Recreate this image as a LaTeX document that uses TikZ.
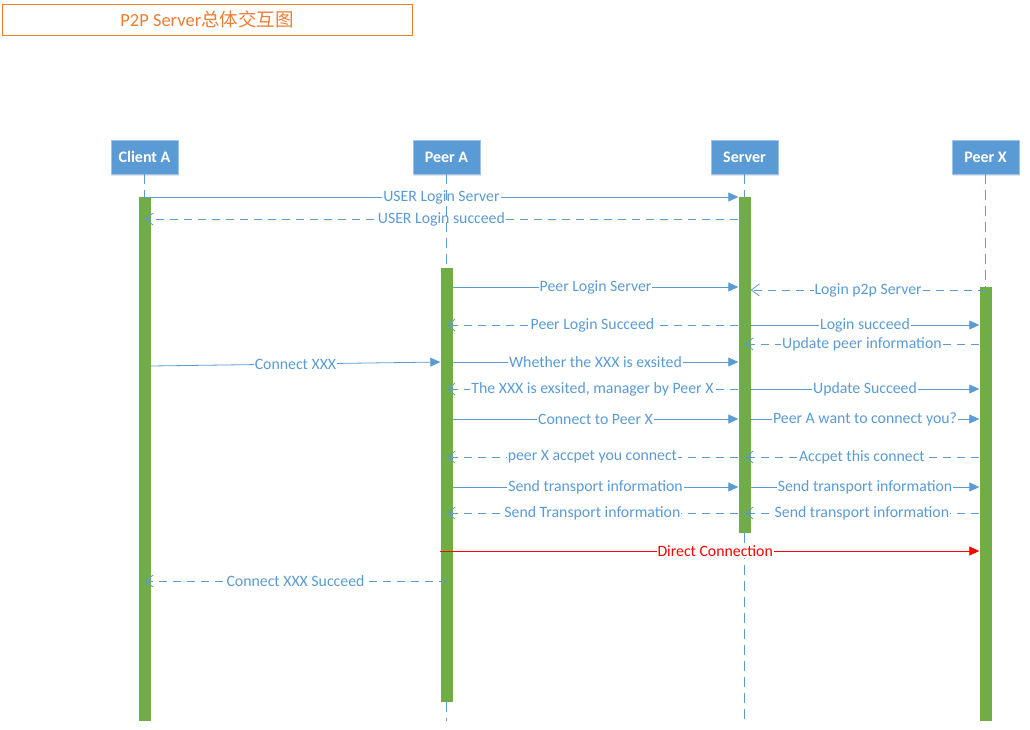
\documentclass[tikz,border=0pt]{standalone}
\usepackage{fontspec}
\setmainfont{Carlito}
\newfontfamily\cjk{Noto Sans CJK SC}
\usepackage{xcolor}
\usepackage{tikz}
\usetikzlibrary{
  arrows.meta,
  positioning,
  shadows
}
\definecolor{headblue}{HTML}{5B9BD5}
\definecolor{msgblue}{HTML}{5B9BD5}
\definecolor{bargreen}{HTML}{70AD47}
\definecolor{titleorange}{HTML}{ED7D31}

\begin{document}
\begin{tikzpicture}[
  x=1pt, y=-1pt,
  head/.style={draw=headblue!60!white, fill=headblue, text=white,
               minimum width=67pt, minimum height=34pt, inner sep=0pt,
               font=\fontsize{16}{19}\selectfont\bfseries,
               drop shadow={opacity=0.2, shadow xshift=1pt, shadow yshift=-1.5pt}},
  bar/.style={fill=bargreen, minimum width=12pt, inner sep=0pt},
  life/.style={draw=headblue, line width=1pt, dash pattern=on 10pt off 6pt},
  call/.style={-{Triangle[length=10pt, width=9pt]}, msgblue, line width=0.8pt},
  reply/.style={-{Straight Barb[length=8pt, width=12pt]}, msgblue, line width=0.8pt,
                dash pattern=on 8pt off 6pt},
  lbl/.style={fill=white, inner sep=1pt, text=msgblue,
              font=\fontsize{15.8}{19}\selectfont},
]
  \useasboundingbox (0,0) rectangle (1030,729);

  \node[draw=titleorange, line width=0.8pt, text=titleorange,
        minimum width=410pt, minimum height=31pt, inner sep=0pt,
        font=\fontsize{18.5}{22}\selectfont] (title) at (207,19.5)
        {P2P Server{\cjk 总体交互图}};

  % lifeline heads
  \node[head] (ca)  at (144.5,157) {Client A};
  \node[head] (pa)  at (446.5,157) {Peer A};
  \node[head] (srv) at (744.5,157) {Server};
  \node[head] (px)  at (985.5,157) {Peer X};

  % activation bars
  \node[bar, minimum height=524pt] (cabar)  at (144.5,459) {};
  \node[bar, minimum height=434pt] (pabar)  at (446.5,485) {};
  \node[bar, minimum height=336pt] (srvbar) at (744.5,365) {};
  \node[bar, minimum height=434pt] (pxbar)  at (985.5,504) {};

  \draw[life] (ca.south) -- (cabar.north);
  \draw[life] (pabar.south) -- (pabar.south |- 0,721);
  \draw[life] (srv.south) -- (srvbar.north);
  \draw[life] (srvbar.south) -- (srvbar.south |- 0,721);
  \draw[life] (px.south) -- (pxbar.north);

  \draw[call] (cabar.center |- 0,197) -- (srvbar.west |- 0,197)
    node[midway, lbl] {USER Login Server};
  \draw[reply] (srvbar.west |- 0,219) -- (cabar.center |- 0,219)
    node[midway, lbl] {USER Login succeed};

  \draw[call] (pabar.east |- 0,287) -- (srvbar.west |- 0,287)
    node[midway, lbl] {Peer Login Server};
  \draw[reply] (pxbar.center |- 0,290) -- (srvbar.east |- 0,290)
    node[midway, lbl] {Login p2p Server};
  \draw[reply] (srvbar.west |- 0,325) -- (pabar.center |- 0,325)
    node[midway, lbl] {Peer Login Succeed};
  \draw[call] (srvbar.east |- 0,325) -- (pxbar.west |- 0,325)
    node[midway, lbl] {Login succeed};
  \draw[reply] (pxbar.west |- 0,344) -- (srvbar.center |- 0,344)
    node[midway, lbl] {Update peer information};

  \draw[call] (cabar.east |- 0,366) -- (pabar.west |- 0,362)
    node[midway, lbl] {Connect XXX};
  \draw[call] (pabar.east |- 0,362) -- (srvbar.west |- 0,362)
    node[midway, lbl] {Whether the XXX is exsited};
  \draw[reply] (srvbar.west |- 0,389) -- (pabar.center |- 0,389)
    node[midway, lbl] {The XXX is exsited, manager by Peer X};
  \draw[call] (srvbar.east |- 0,389) -- (pxbar.west |- 0,389)
    node[midway, lbl] {Update Succeed};

  \draw[call] (pabar.east |- 0,419) -- (srvbar.west |- 0,419)
    node[midway, lbl] {Connect to Peer X};
  \draw[call] (srvbar.east |- 0,419) -- (pxbar.west |- 0,419)
    node[midway, lbl] {Peer A want to connect you?};
  \draw[reply] (srvbar.west |- 0,457) -- (pabar.center |- 0,457)
    node[midway, lbl] {peer X accpet you connect};
  \draw[reply] (pxbar.west |- 0,457) -- (srvbar.center |- 0,457)
    node[midway, lbl] {Accpet this connect};

  \draw[call] (pabar.east |- 0,487) -- (srvbar.west |- 0,487)
    node[midway, lbl] {Send transport information};
  \draw[call] (srvbar.east |- 0,487) -- (pxbar.west |- 0,487)
    node[midway, lbl] {Send transport information};
  \draw[reply] (srvbar.west |- 0,513) -- (pabar.center |- 0,513)
    node[midway, lbl] {Send Transport information};
  \draw[reply] (pxbar.west |- 0,513) -- (srvbar.center |- 0,513)
    node[midway, lbl] {Send transport information};

  \draw[call, red] (pabar.west |- 0,551) -- (pxbar.west |- 0,551)
    node[pos=0.51, lbl, text=red] {Direct Connection};
  \draw[reply] (pabar.center |- 0,581) -- (cabar.center |- 0,581)
    node[midway, lbl] {Connect XXX Succeed};

  % upper part of Peer A lifeline, over the labels
  \draw[life] (pa.south) -- (pabar.north);
\end{tikzpicture}
\end{document}
